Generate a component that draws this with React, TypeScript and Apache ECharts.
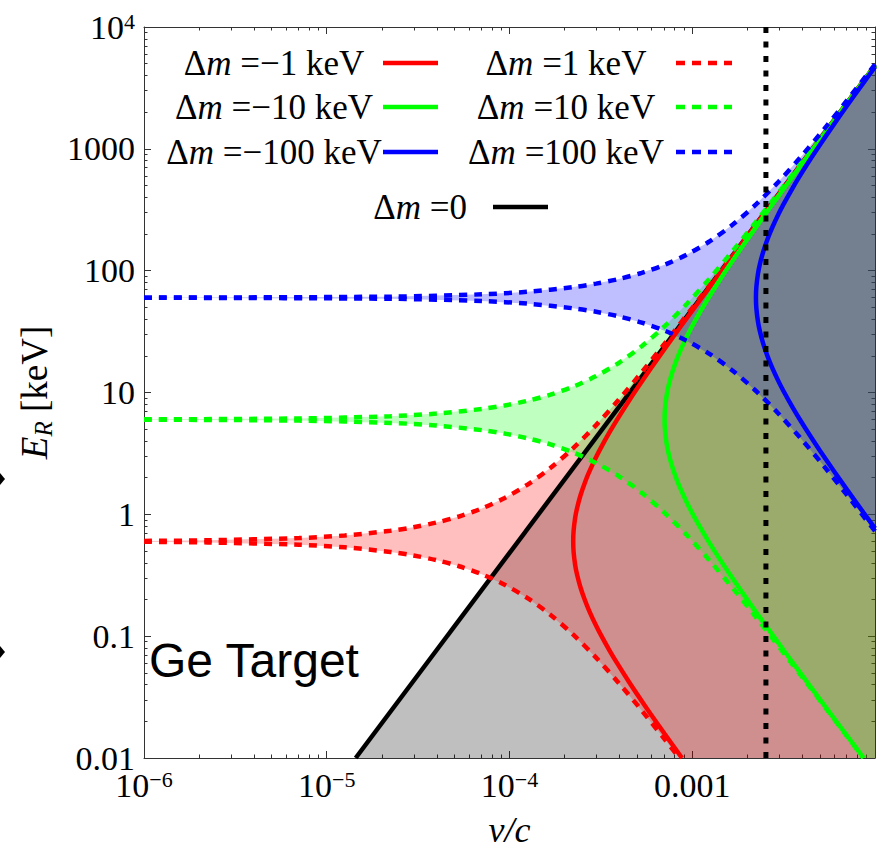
import React, { useEffect, useRef } from 'react';
import * as echarts from 'echarts';

// ---------- axis ticks ----------
const xTickValues = [1e-6, 1e-5, 1e-4, 1e-3, 1e-2];
const xLabelValues = [1e-6, 1e-5, 1e-4, 1e-3];
const xTickLabels = ['10{s|−6}', '10{s|−5}', '10{s|−4}', '0.001'];
const xMinorTicks = [
  2e-6, 3e-6, 4e-6, 5e-6, 6e-6, 7e-6, 8e-6, 9e-6,
  2e-5, 3e-5, 4e-5, 5e-5, 6e-5, 7e-5, 8e-5, 9e-5,
  2e-4, 3e-4, 4e-4, 5e-4, 6e-4, 7e-4, 8e-4, 9e-4,
  2e-3, 3e-3, 4e-3, 5e-3, 6e-3, 7e-3, 8e-3, 9e-3,
];
const yTickValues = [0.01, 0.1, 1, 10, 100, 1000, 10000];
const yTickLabels = ['0.01', '0.1', '1', '10', '100', '1000', '{b|10}{s|4}'];
const yMinorTicks = [
  0.02, 0.03, 0.04, 0.05, 0.06, 0.07, 0.08, 0.09,
  0.2, 0.3, 0.4, 0.5, 0.6, 0.7, 0.8, 0.9,
  2, 3, 4, 5, 6, 7, 8, 9,
  20, 30, 40, 50, 60, 70, 80, 90,
  200, 300, 400, 500, 600, 700, 800, 900,
  2000, 3000, 4000, 5000, 6000, 7000, 8000, 9000,
];

// ---------- curves [v/c, E_R keV] ----------
const blackLine = [[1.44e-5, 0.01], [1e-2, 4820]];
const escapeLine = [[2.53e-3, 0.01], [2.53e-3, 10000]];

const redDashedUpper = [[1e-6, 0.605], [2.232e-6, 0.612], [7.057e-6, 0.639], [1.255e-5, 0.671], [2.232e-5, 0.733], [2.976e-5, 0.783], [3.969e-5, 0.855], [5.292e-5, 0.96], [7.057e-5, 1.118], [9.41e-5, 1.363], [1.255e-4, 1.754], [1.673e-4, 2.4], [2.232e-4, 3.497], [2.976e-4, 5.401], [3.969e-4, 8.748], [5.292e-4, 14.67], [7.057e-4, 25.19], [1.255e-3, 77.09], [2.232e-3, 241.2], [3.969e-3, 760.1], [7.057e-3, 2401], [1e-2, 4821]];
const redDashedLower = [[1e-6, 0.595], [2.232e-6, 0.588], [7.057e-6, 0.563], [1.255e-5, 0.536], [2.232e-5, 0.491], [2.976e-5, 0.46], [3.969e-5, 0.421], [5.292e-5, 0.375], [7.057e-5, 0.322], [9.41e-5, 0.264], [1.255e-4, 0.2053], [1.673e-4, 0.15], [2.232e-4, 0.1029], [2.976e-4, 0.06665], [3.969e-4, 0.04115], [5.292e-4, 0.02454], [7.057e-4, 0.01429], [8.499e-4, 0.01]];
const redSolid = [[8.787e-4, 0.01], [7.0566e-4, 0.0158], [5.904e-4, 0.02311], [4.9898e-4, 0.03344], [4.463e-4, 0.04308], [3.8651e-4, 0.06061], [3.5283e-4, 0.07621], [3.1558e-4, 0.1029], [2.952e-4, 0.1252], [2.733e-4, 0.1608], [2.5928e-4, 0.1951], [2.4445e-4, 0.2521], [2.3404e-4, 0.322], [2.2866e-4, 0.385], [2.2426e-4, 0.4914], [2.2315e-4, 0.6], [2.2426e-4, 0.7326], [2.2866e-4, 0.935], [2.3404e-4, 1.118], [2.4445e-4, 1.428], [2.5928e-4, 1.845], [2.733e-4, 2.239], [2.952e-4, 2.875], [3.1558e-4, 3.497], [3.5283e-4, 4.724], [3.8651e-4, 5.939], [4.463e-4, 8.357], [4.9898e-4, 10.77], [5.904e-4, 15.58], [7.0566e-4, 22.78], [8.6426e-4, 34.79], [9.9796e-4, 46.79], [1.2222e-3, 70.79], [1.5779e-3, 118.8], [2.2315e-3, 238.8], [3.9682e-3, 757.7], [7.0566e-3, 2399], [1e-2, 4818]];

const greenDashedUpper = [[1e-6, 6.02], [7.058e-6, 6.12], [2.2316e-5, 6.39], [3.969e-5, 6.71], [7.058e-5, 7.33], [9.411e-5, 7.83], [1.2551e-4, 8.55], [1.6735e-4, 9.6], [2.2316e-4, 11.18], [2.9757e-4, 13.63], [3.9683e-4, 17.54], [5.2917e-4, 24.0], [7.0566e-4, 34.97], [9.4109e-4, 54.01], [1.2551e-3, 87.48], [1.6735e-3, 146.7], [2.2316e-3, 251.9], [3.9683e-3, 770.9], [7.0566e-3, 2412], [1e-2, 4831]];
const greenDashedLower = [[1e-6, 5.98], [7.058e-6, 5.88], [2.2316e-5, 5.63], [3.969e-5, 5.36], [7.058e-5, 4.91], [9.411e-5, 4.6], [1.2551e-4, 4.21], [1.6735e-4, 3.75], [2.2316e-4, 3.22], [2.9757e-4, 2.64], [3.9683e-4, 2.053], [5.2917e-4, 1.5], [7.0566e-4, 1.029], [9.4109e-4, 0.6665], [1.2551e-3, 0.4115], [1.6735e-3, 0.2454], [2.2316e-3, 0.1429], [3.9683e-3, 0.0467], [7.0566e-3, 0.01493], [8.628e-3, 0.01]];
const greenSolid = [[8.657e-3, 0.01], [7.0566e-3, 0.01508], [4.9898e-3, 0.0303], [3.8651e-3, 0.05085], [3.1558e-3, 0.07694], [2.733e-3, 0.1035], [2.2315e-3, 0.158], [1.867e-3, 0.2311], [1.5779e-3, 0.3344], [1.4113e-3, 0.4308], [1.2222e-3, 0.6061], [1.1158e-3, 0.7621], [9.9796e-4, 1.029], [9.335e-4, 1.252], [8.6425e-4, 1.608], [8.199e-4, 1.951], [7.7301e-4, 2.521], [7.401e-4, 3.22], [7.2308e-4, 3.85], [7.0918e-4, 4.914], [7.0566e-4, 6.0], [7.0918e-4, 7.326], [7.2308e-4, 9.35], [7.401e-4, 11.18], [7.7301e-4, 14.28], [8.199e-4, 18.45], [8.6425e-4, 22.39], [9.335e-4, 28.75], [9.9796e-4, 34.97], [1.1158e-3, 47.24], [1.2222e-3, 59.39], [1.4113e-3, 83.57], [1.5779e-3, 107.7], [1.867e-3, 155.8], [2.2315e-3, 227.8], [2.733e-3, 347.9], [3.1558e-3, 467.9], [3.8651e-3, 707.9], [4.9898e-3, 1188], [7.0566e-3, 2388], [1e-2, 4807]];

const blueDashedUpper = [[1e-6, 60.05], [2.232e-5, 61.2], [7.057e-5, 63.9], [1.255e-4, 67.1], [2.232e-4, 73.3], [2.976e-4, 78.3], [3.969e-4, 85.5], [5.292e-4, 96.0], [7.057e-4, 111.8], [9.41e-4, 136.3], [1.255e-3, 175.4], [1.673e-3, 240.0], [2.232e-3, 349.7], [2.976e-3, 540.1], [3.969e-3, 874.8], [5.292e-3, 1467], [7.057e-3, 2519], [1e-2, 4939]];
const blueDashedLower = [[1e-6, 59.95], [2.232e-5, 58.8], [7.057e-5, 56.3], [1.255e-4, 53.6], [2.232e-4, 49.1], [2.976e-4, 46.0], [3.969e-4, 42.1], [5.292e-4, 37.5], [7.057e-4, 32.2], [9.41e-4, 26.4], [1.255e-3, 20.53], [1.673e-3, 15.0], [2.232e-3, 10.29], [2.976e-3, 6.665], [3.969e-3, 4.115], [5.292e-3, 2.454], [7.057e-3, 1.429], [1e-2, 0.729]];
const blueSolid = [[1e-2, 0.766], [8.6426e-3, 1.035], [7.0566e-3, 1.58], [5.904e-3, 2.311], [4.9898e-3, 3.344], [4.463e-3, 4.308], [3.8651e-3, 6.061], [3.5283e-3, 7.621], [3.1558e-3, 10.29], [2.952e-3, 12.52], [2.733e-3, 16.08], [2.5928e-3, 19.51], [2.4445e-3, 25.21], [2.3404e-3, 32.2], [2.2866e-3, 38.5], [2.2426e-3, 49.14], [2.2315e-3, 60.0], [2.2426e-3, 73.26], [2.2866e-3, 93.5], [2.3404e-3, 111.8], [2.4445e-3, 142.8], [2.5928e-3, 184.5], [2.733e-3, 223.9], [2.952e-3, 287.5], [3.1558e-3, 349.7], [3.5283e-3, 472.4], [3.8651e-3, 593.9], [4.463e-3, 835.7], [4.9898e-3, 1077], [5.904e-3, 1558], [7.0566e-3, 2278], [8.6426e-3, 3479], [1e-2, 4699]];

// ---------- legend ----------
const legendLabels = ['Δ{i|m} =−1 keV', 'Δ{i|m} =−10 keV', 'Δ{i|m} =−100 keV', 'Δ{i|m} =1 keV', 'Δ{i|m} =10 keV', 'Δ{i|m} =100 keV', 'Δ{i|m} =0'];
const legendColors = ['#ff0000', '#00ff00', '#0000ff', '#ff0000', '#00ff00', '#0000ff', '#000000'];
const legendDashed = [false, false, false, true, true, true, false];

const SERIF = '"Liberation Serif", "Times New Roman", Times, serif';
const SANS = '"Liberation Sans", Arial, Helvetica, sans-serif';

const RED = '#ff0000';
const GREEN = '#00ff00';
const BLUE = '#0000ff';
const DASH = [8, 7];

function lineSeries(data: number[][], color: string, dashed: boolean, width = 4.5) {
  return {
    type: 'line',
    data,
    showSymbol: false,
    symbol: 'none',
    smooth: 0.3,
    silent: true,
    lineStyle: { color, width, type: dashed ? DASH : 'solid', cap: 'butt' },
    z: 3,
  };
}

function fillSeries(points: number[][], color: string) {
  return {
    type: 'custom',
    coordinateSystem: 'cartesian2d',
    clip: true,
    silent: true,
    data: [[points[0][0], points[0][1]]],
    encode: { x: 0, y: 1 },
    renderItem: (_params: any, api: any) => ({
      type: 'polygon',
      shape: { points: points.map((p) => api.coord(p)) },
      style: { fill: color, stroke: 'none' },
    }),
    z: 1,
  };
}

function logIndex(values: number[], v: number) {
  return values.findIndex((t) => Math.abs(Math.log10(t) - Math.log10(v)) < 1e-6);
}

export default function App() {
  const ref = useRef<HTMLDivElement>(null);

  useEffect(() => {
    if (!ref.current) return;
    const chart = echarts.init(ref.current, null, { renderer: 'svg' });

    const grayPoly = [...blackLine, [1e-2, 0.01]];
    const redPoly = [...redDashedUpper, [1e-2, 0.01], ...[...redDashedLower].reverse()];
    const greenPoly = [...greenDashedUpper, [1e-2, 0.01], ...[...greenDashedLower].reverse()];
    const bluePoly = [...blueDashedUpper, ...[...blueDashedLower].reverse()];

    const frameLine = { show: true, lineStyle: { color: '#333', width: 1 } };
    const tickStyle = { color: '#333', width: 1 };
    const baseX = { type: 'log', logBase: 10, min: 1e-6, max: 1e-2, splitLine: { show: false } };
    const baseY = { type: 'log', logBase: 10, min: 0.01, max: 10000, splitLine: { show: false } };

    // legend graphics
    const legendGraphics: any[] = [];
    const rowsY = [63, 107, 152];
    legendLabels.forEach((txt, i) => {
      let cx: number, cy: number, lx1: number, lx2: number;
      if (i < 3) { cx = 274; cy = rowsY[i]; lx1 = 383; lx2 = 438; }
      else if (i < 6) { cx = 566; cy = rowsY[i - 3]; lx1 = 676; lx2 = 732; }
      else { cx = 420; cy = 207; lx1 = 493; lx2 = 548; }
      legendGraphics.push({
        type: 'text', x: cx, y: cy, z: 100,
        style: {
          text: txt, align: 'center', verticalAlign: 'middle', fontSize: 35, fontFamily: SERIF, fill: '#000',
          rich: { i: { fontStyle: 'italic', fontSize: 35, fontFamily: SERIF, fill: '#000' } },
        },
      });
      legendGraphics.push({
        type: 'line', z: 100,
        shape: { x1: lx1, y1: cy, x2: lx2, y2: cy },
        style: { stroke: legendColors[i], lineWidth: 4.5, lineDash: legendDashed[i] ? [9, 7] : null },
      });
    });

    const option: any = {
      animation: false,
      backgroundColor: '#fff',
      textStyle: { fontFamily: SERIF },
      grid: { left: 144, top: 27, width: 731, height: 731, containLabel: false },
      xAxis: [
        {
          ...baseX, position: 'bottom', axisLine: frameLine,
          axisTick: { show: true, inside: true, length: 7, customValues: xTickValues, lineStyle: tickStyle },
          axisLabel: {
            show: true, customValues: xLabelValues, margin: 10, fontSize: 34, lineHeight: 34, color: '#000', fontFamily: SERIF,
            formatter: (v: number) => { const i = logIndex(xLabelValues, v); return i >= 0 ? xTickLabels[i] : ''; },
            rich: { s: { fontSize: 22, lineHeight: 10, verticalAlign: 'top', fontFamily: SERIF, color: '#000' } },
          },
          name: 'v/c', nameLocation: 'middle', nameGap: 54,
          nameTextStyle: { fontSize: 36, fontStyle: 'italic', fontFamily: SERIF, color: '#000' },
        },
        { ...baseX, position: 'bottom', axisLine: { show: false }, axisLabel: { show: false },
          axisTick: { show: true, inside: true, length: 3.5, customValues: xMinorTicks, lineStyle: tickStyle } },
        { ...baseX, position: 'top', axisLine: frameLine, axisLabel: { show: false },
          axisTick: { show: true, inside: true, length: 7, customValues: xTickValues, lineStyle: tickStyle } },
        { ...baseX, position: 'top', axisLine: { show: false }, axisLabel: { show: false },
          axisTick: { show: true, inside: true, length: 3.5, customValues: xMinorTicks, lineStyle: tickStyle } },
      ],
      yAxis: [
        {
          ...baseY, position: 'left', axisLine: frameLine,
          axisTick: { show: true, inside: true, length: 7, customValues: yTickValues, lineStyle: tickStyle },
          axisLabel: {
            show: true, customValues: yTickValues, margin: 9, fontSize: 34, lineHeight: 20, color: '#000', fontFamily: SERIF,
            formatter: (v: number) => { const i = logIndex(yTickValues, v); return i >= 0 ? yTickLabels[i] : ''; },
            rich: {
              b: { fontSize: 34, lineHeight: 34, fontFamily: SERIF, color: '#000' },
              s: { fontSize: 22, lineHeight: 10, verticalAlign: 'top', fontFamily: SERIF, color: '#000' },
            },
          },
          name: '{e|E}{r|R} [keV]', nameLocation: 'middle', nameGap: 88,
          nameTextStyle: {
            fontSize: 37, fontFamily: SERIF, color: '#000', lineHeight: 44,
            rich: {
              e: { fontSize: 37, fontStyle: 'italic', fontFamily: SERIF, lineHeight: 44, color: '#000' },
              r: { fontSize: 25, fontStyle: 'italic', fontFamily: SERIF, lineHeight: 26, verticalAlign: 'bottom', color: '#000' },
            },
          },
        },
        { ...baseY, position: 'left', axisLine: { show: false }, axisLabel: { show: false },
          axisTick: { show: true, inside: true, length: 3.5, customValues: yMinorTicks, lineStyle: tickStyle } },
        { ...baseY, position: 'right', axisLine: frameLine, axisLabel: { show: false },
          axisTick: { show: true, inside: true, length: 7, customValues: yTickValues, lineStyle: tickStyle } },
        { ...baseY, position: 'right', axisLine: { show: false }, axisLabel: { show: false },
          axisTick: { show: true, inside: true, length: 3.5, customValues: yMinorTicks, lineStyle: tickStyle } },
      ],
      series: [
        fillSeries(grayPoly, 'rgba(0,0,0,0.25)'),
        fillSeries(redPoly, 'rgba(255,0,0,0.25)'),
        fillSeries(greenPoly, 'rgba(0,255,0,0.25)'),
        fillSeries(bluePoly, 'rgba(0,0,255,0.25)'),
        { ...lineSeries(blackLine, '#000', false, 4.5), smooth: false },
        lineSeries(redDashedUpper, RED, true),
        lineSeries(redDashedLower, RED, true),
        lineSeries(redSolid, RED, false),
        lineSeries(greenDashedUpper, GREEN, true),
        lineSeries(greenDashedLower, GREEN, true),
        lineSeries(greenSolid, GREEN, false),
        lineSeries(blueDashedUpper, BLUE, true),
        lineSeries(blueDashedLower, BLUE, true),
        lineSeries(blueSolid, BLUE, false),
        {
          type: 'line', data: escapeLine, showSymbol: false, symbol: 'none', silent: true, z: 4,
          lineStyle: { color: '#000', width: 5, type: [6, 8.5], cap: 'butt' },
        },
      ],
      graphic: [
        ...legendGraphics,
        {
          type: 'text', x: 149, y: 660, z: 100,
          style: { text: 'Ge Target', fontSize: 48, fontFamily: SANS, fill: '#000', align: 'left', verticalAlign: 'middle' },
        },
        { type: 'polygon', z: 100, shape: { points: [[0, 473], [5, 479], [0, 485]] }, style: { fill: '#000' } },
        { type: 'polygon', z: 100, shape: { points: [[0, 646], [5, 652], [0, 658]] }, style: { fill: '#000' } },
      ],
    };

    chart.setOption(option);
    return () => chart.dispose();
  }, []);

  return (
    <div
      ref={ref}
      style={{ position: 'fixed', left: 0, top: 0, width: 883, height: 853, background: '#fff' }}
    />
  );
}
